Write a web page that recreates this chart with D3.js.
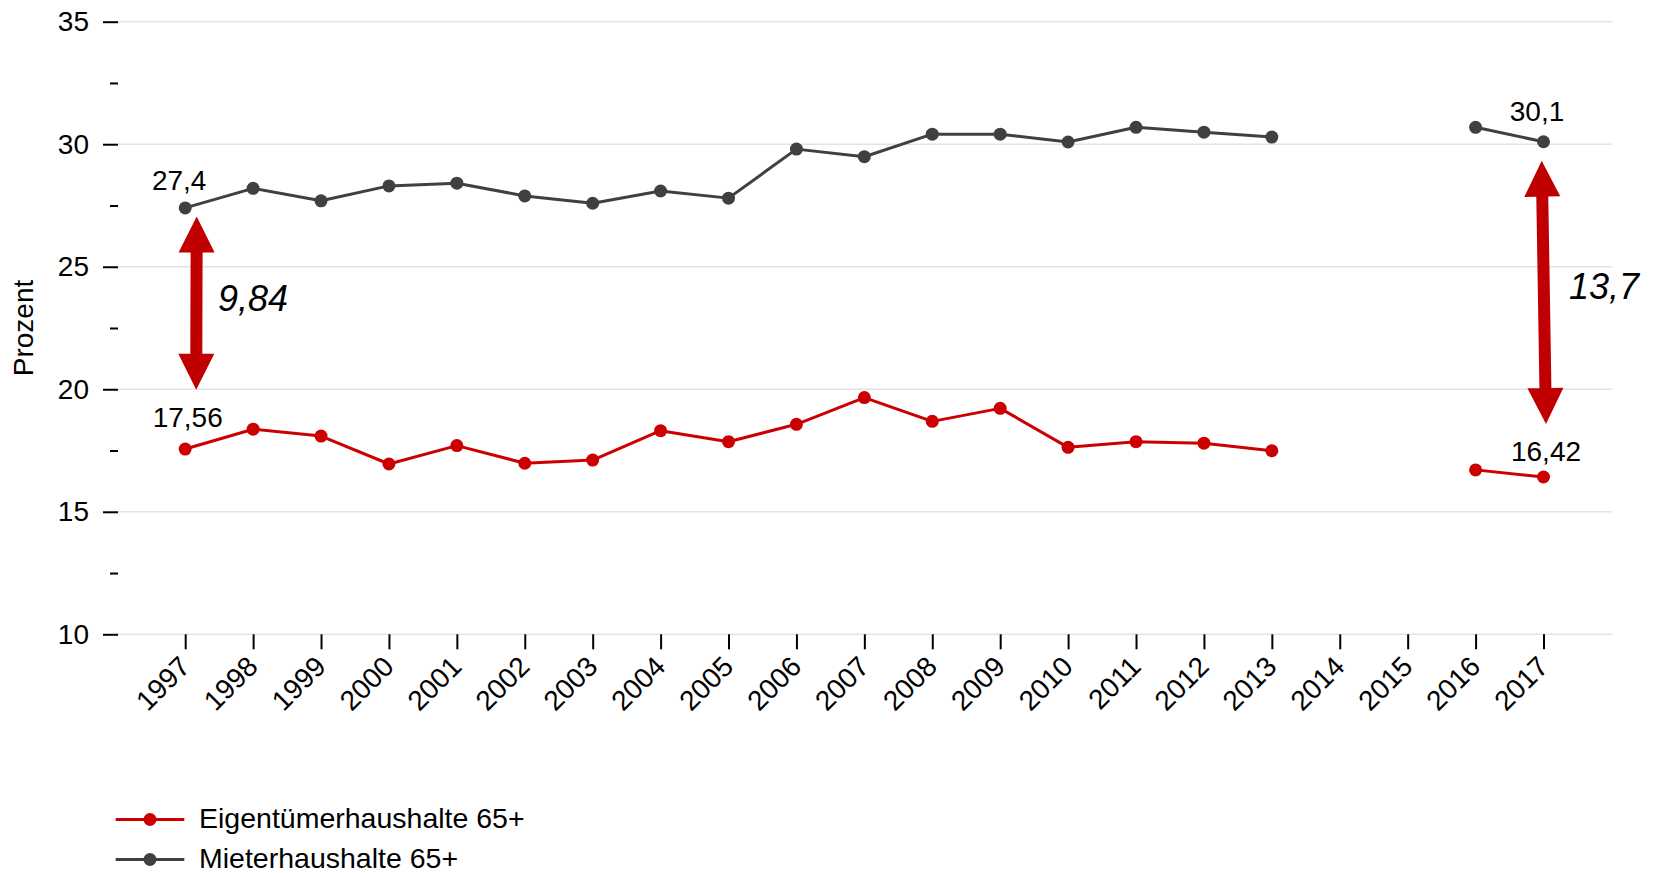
<!DOCTYPE html>
<html>
<head>
<meta charset="utf-8">
<script src="https://cdn.jsdelivr.net/npm/d3@7"></script>
<style>
  html, body { margin: 0; padding: 0; background: #fff; }
  svg { display: block; font-family: "Liberation Sans", Arial, sans-serif; }
</style>
</head>
<body>
<svg id="chart" width="1654" height="873"></svg>
<script>
// Wohnkostenbelastung 65+ (Prozent), Eigentümer vs. Mieter
const years = [1997, 1998, 1999, 2000, 2001, 2002, 2003, 2004, 2005, 2006,
               2007, 2008, 2009, 2010, 2011, 2012, 2013, 2014, 2015, 2016, 2017];
const eigentuemer = [17.56, 18.37, 18.09, 16.95, 17.70, 16.98, 17.11, 18.31, 17.86, 18.57,
                     19.66, 18.69, 19.22, 17.63, 17.86, 17.80, 17.49, null, null, 16.71, 16.42];
const mieter = [27.4, 28.20, 27.69, 28.30, 28.41, 27.89, 27.59, 28.09, 27.80, 29.80,
                29.49, 30.41, 30.41, 30.09, 30.69, 30.49, 30.29, null, null, 30.69, 30.1];
const yTicks = [10, 15, 20, 25, 30, 35];
const yMinorTicks = [12.5, 17.5, 22.5, 27.5, 32.5];
const seriesNames = ["Eigentümerhaushalte 65+", "Mieterhaushalte 65+"];
// Years whose values are written next to the points
const labelledYears = [1997, 2017];
// Gap arrows: tips in data units
const gapYears = [1997, 2017];
const gapArrowTop = [27.05, 29.33];
const gapArrowBottom = [19.98, 18.58];

const RED = "#cc0000", GREY = "#404040", ARROW = "#c00000";
const FONT = 28;

const svg = d3.select("#chart");
const plotLeft = 118, plotRight = 1612;

const x = d3.scalePoint().domain(years).range([185.2, 1543.5]);
const y = d3.scaleLinear().domain([10, 35]).range([634.3, 21.7]);

// Horizontal gridlines
svg.append("g").selectAll("line").data(yTicks).join("line")
  .attr("x1", plotLeft).attr("x2", plotRight)
  .attr("y1", d => y(d)).attr("y2", d => y(d))
  .attr("stroke", "#e3e3e3").attr("stroke-width", 1.5);

// Y axis: major ticks with labels, minor ticks without
const yAxis = svg.append("g").attr("transform", `translate(${plotLeft},0)`)
  .call(d3.axisLeft(y).tickValues(yTicks).tickSize(15).tickPadding(14).tickFormat(d3.format("d")));
yAxis.select(".domain").remove();
yAxis.selectAll(".tick line").attr("stroke", "#000").attr("stroke-width", 2);
yAxis.selectAll(".tick text").attr("font-size", FONT).attr("fill", "#000")
  .attr("font-family", "Liberation Sans, Arial, sans-serif");
const yMinor = svg.append("g").attr("transform", `translate(${plotLeft},0)`)
  .call(d3.axisLeft(y).tickValues(yMinorTicks).tickSize(8).tickFormat(""));
yMinor.select(".domain").remove();
yMinor.selectAll(".tick line").attr("stroke", "#000").attr("stroke-width", 2);

svg.append("text")
  .attr("transform", "translate(33,328) rotate(-90)")
  .attr("text-anchor", "middle")
  .attr("font-size", FONT).attr("fill", "#000")
  .text("Prozent");

// X axis
const xAxis = svg.append("g").attr("transform", `translate(0,${y(10)})`)
  .call(d3.axisBottom(x).tickSize(15).tickFormat(d3.format("d")));
xAxis.select(".domain").remove();
xAxis.selectAll(".tick line").attr("stroke", "#000").attr("stroke-width", 2);
xAxis.selectAll(".tick text")
  .attr("font-size", FONT).attr("fill", "#000")
  .attr("font-family", "Liberation Sans, Arial, sans-serif")
  .attr("text-anchor", "end")
  .attr("x", null).attr("y", null).attr("dy", null)
  .attr("transform", "translate(6,34) rotate(-45)");

// Series
const series = [
  { name: seriesNames[0], values: eigentuemer, color: RED },
  { name: seriesNames[1], values: mieter, color: GREY }
];
const line = d3.line()
  .defined(d => d.v != null)
  .x(d => x(d.year)).y(d => y(d.v));

series.forEach(s => {
  const pts = years.map((yr, i) => ({ year: yr, v: s.values[i] }));
  const g = svg.append("g");
  g.append("path").datum(pts)
    .attr("d", line).attr("fill", "none")
    .attr("stroke", s.color).attr("stroke-width", 3).attr("stroke-linejoin", "round");
  g.selectAll("circle").data(pts.filter(d => d.v != null)).join("circle")
    .attr("cx", d => x(d.year)).attr("cy", d => y(d.v)).attr("r", 6.5)
    .attr("fill", s.color);
});

// Value labels at first and last year
const fmtDe = v => String(v).replace(".", ",");
const labelOffsets = {
  "Eigentümerhaushalte 65+|1997": [2.5, -21.7],
  "Eigentümerhaushalte 65+|2017": [2.5, -15.6],
  "Mieterhaushalte 65+|1997": [-6, -18.3],
  "Mieterhaushalte 65+|2017": [-6.5, -20.6]
};
series.forEach(s => {
  labelledYears.forEach(yr => {
    const v = s.values[years.indexOf(yr)];
    const off = labelOffsets[s.name + "|" + yr];
    svg.append("text")
      .attr("x", x(yr) + off[0]).attr("y", y(v) + off[1])
      .attr("text-anchor", "middle").attr("font-size", FONT).attr("fill", "#000")
      .text(fmtDe(v));
  });
});

// Double-headed gap arrows
function arrowPath(x1, y1, x2, y2) {
  const dx = x2 - x1, dy = y2 - y1, len = Math.hypot(dx, dy);
  const ux = dx / len, uy = dy / len, nx = -uy, ny = ux;
  const hw = 6, hh = 18, hl = 36;
  const p = (a, b) => [x1 + ux * a + nx * b, y1 + uy * a + ny * b];
  const pts = [
    p(0, 0), p(hl, hh), p(hl, hw), p(len - hl, hw), p(len - hl, hh),
    p(len, 0), p(len - hl, -hh), p(len - hl, -hw), p(hl, -hw), p(hl, -hh)
  ];
  return "M" + pts.map(q => q.join(",")).join("L") + "Z";
}
const arrowXOffsets = [[11.5, 11], [-1.8, 2.5]];
const diffFmt = d3.format(".3~r");
const diffLabelPos = [[218, 311], [1569, 299]];
gapYears.forEach((yr, i) => {
  const xo = arrowXOffsets[i];
  svg.append("path")
    .attr("d", arrowPath(x(yr) + xo[0], y(gapArrowTop[i]), x(yr) + xo[1], y(gapArrowBottom[i])))
    .attr("fill", ARROW);
  const idx = years.indexOf(yr);
  const diff = mieter[idx] - eigentuemer[idx];
  svg.append("text")
    .attr("x", diffLabelPos[i][0]).attr("y", diffLabelPos[i][1])
    .attr("font-size", 36).attr("font-style", "italic").attr("fill", "#000")
    .text(diffFmt(diff).replace(".", ","));
});

// Legend
const legend = svg.append("g");
series.forEach((s, i) => {
  const ly = 819.5 + i * 40;
  legend.append("line").attr("x1", 115.7).attr("x2", 184.3).attr("y1", ly).attr("y2", ly)
    .attr("stroke", s.color).attr("stroke-width", 3);
  legend.append("circle").attr("cx", 150).attr("cy", ly).attr("r", 6.5).attr("fill", s.color);
  legend.append("text").attr("x", 199).attr("y", ly + 8)
    .attr("font-size", 28.5).attr("fill", "#000").text(s.name);
});
</script>
</body>
</html>
